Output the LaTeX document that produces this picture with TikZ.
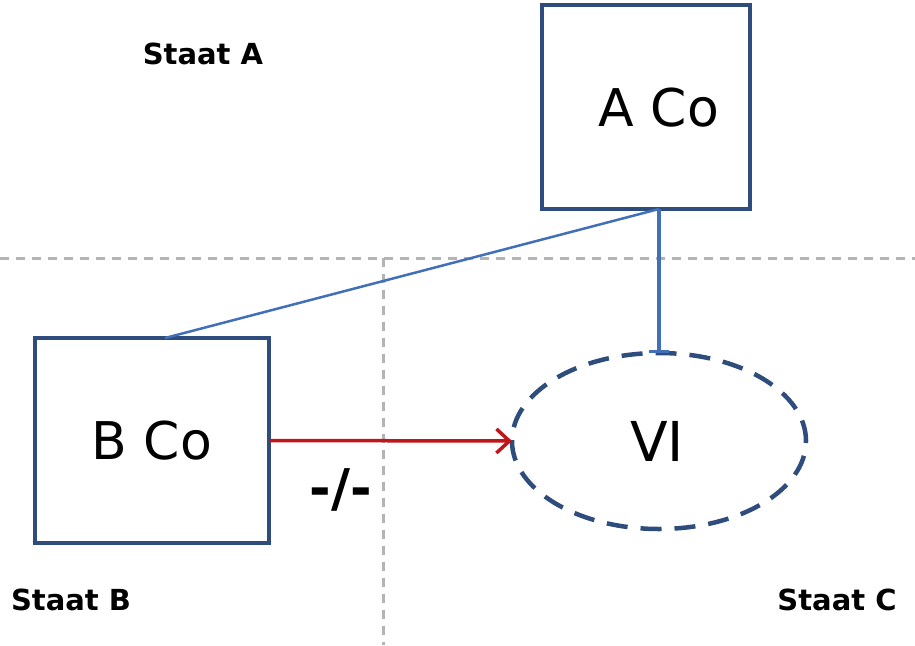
\documentclass[tikz,border=0pt]{standalone}
\usepackage{fontspec}
\setmainfont{DejaVu Sans}
\usetikzlibrary{shapes.geometric,arrows.meta,calc}
\definecolor{boxblue}{HTML}{2E4D7C}
\definecolor{linkblue}{HTML}{4170B8}
\definecolor{arrred}{HTML}{C0161B}
\definecolor{sepgray}{HTML}{B4B4B4}
\begin{document}
\begin{tikzpicture}[x=1pt,y=-1pt,
  cobox/.style={draw=boxblue,line width=4.5pt,rectangle,inner sep=0pt,outer sep=0pt,font=\fontsize{52}{56}\selectfont},
  bigtext/.style={font=\fontsize{52}{56}\selectfont,inner sep=0pt},
  vibox/.style={draw=boxblue,line width=4.5pt,ellipse,dash pattern=on 21pt off 13pt,inner sep=0pt,outer sep=0pt,minimum width=294pt,minimum height=176pt},
  statelabel/.style={font=\bfseries\fontsize{29}{32}\selectfont,inner sep=0pt},
  separator/.style={draw=sepgray,line width=3pt,dash pattern=on 9pt off 7pt},
  link/.style={draw=linkblue,line width=2.5pt},
  vlink/.style={draw=linkblue,line width=3.5pt},
  notarrow/.style={draw=arrred,line width=3.5pt,-{Straight Barb[length=13pt,width=24pt,line width=3.5pt]}}]
\useasboundingbox (0,0) rectangle (915,645);
\fill[white] (0,0) rectangle (915,645);
% separators
\coordinate (hl) at (0,258);
\coordinate (hr) at (915,258);
\coordinate (vt) at (383,258);
\coordinate (vb) at (383,645);
\draw[separator] (hl) -- (hr);
\draw[separator] (vt) -- (vb);
% nodes
\node[cobox,minimum width=208pt,minimum height=204pt] (A) at (646,107) {};
\node[bigtext] (AT) at (659,108) {A Co};
\node[cobox,minimum width=234pt,minimum height=205pt] (B) at (152,440.5) {B Co};
\node[vibox] (V) at (659,441) {};
\node[font=\fontsize{55}{60}\selectfont,inner sep=0pt] (VT) at (657,441) {VI};
% labels
\node[statelabel] (SA) at (203,54) {Staat A};
\node[statelabel] (SB) at (71,600) {Staat B};
\node[statelabel] (SC) at (837,600) {Staat C};
\node[font=\bfseries\fontsize{52}{56}\selectfont,inner sep=0pt] (NOT) at (341,490) {-/-};
% connectors
\coordinate (J) at (A.south -| V.north);
\coordinate (BT) at ($(B.north)+(13,0)$);
\draw[link] (J) -- (BT);
\draw[vlink,-{Bar[width=20pt,line width=3.5pt]}] (J) -- (V.north);
\draw[notarrow] (B.east) -- (V.west);
\end{tikzpicture}
\end{document}
